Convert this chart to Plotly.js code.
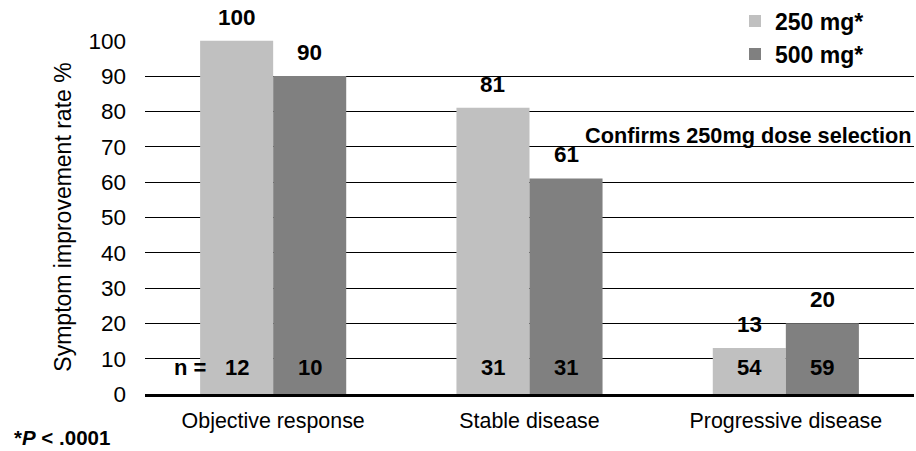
<!DOCTYPE html>
<html>
<head>
<meta charset="utf-8">
<script src="https://cdn.plot.ly/plotly-3.0.1.min.js"></script>
<style>
  html, body { margin: 0; padding: 0; background: #fff; }
  #chart { width: 916px; height: 451px; }
</style>
</head>
<body>
<div id="chart"></div>
<script>
// Symptom improvement by best response, two gefitinib doses
const categories = ['Objective response', 'Stable disease', 'Progressive disease'];
const rate250 = [100, 81, 13];
const rate500 = [90, 61, 20];
const n250 = [12, 31, 54];
const n500 = [10, 31, 59];
const seriesNames = ['250 mg*', '500 mg*'];
const yTicks = [0, 10, 20, 30, 40, 50, 60, 70, 80, 90, 100];

const FONT = 'Arial, "Liberation Sans", sans-serif';
const W = 916, H = 451;
const margin = { l: 145, r: 2, t: 40, b: 57, autoexpand: false };
const bargap = 0.43;
const plotW = W - margin.l - margin.r;
const barPx = plotW / categories.length * (1 - bargap) / 2;

const traces = [
  { type: 'bar', name: seriesNames[0], x: categories, y: rate250,
    marker: { color: '#c0c0c0' }, hoverinfo: 'skip', legendgroup: 'a' },
  { type: 'bar', name: seriesNames[1], x: categories, y: rate500,
    marker: { color: '#808080' }, hoverinfo: 'skip', legendgroup: 'b' }
];

const annotations = [];
const series = [[rate250, n250, -1], [rate500, n500, 1]];
series.forEach(([vals, ns, side]) => {
  categories.forEach((c, i) => {
    // value above each bar
    annotations.push({
      x: c, y: vals[i], xref: 'x', yref: 'y', xshift: side * barPx / 2,
      yanchor: 'bottom', yshift: 9, showarrow: false, text: '<b>' + vals[i] + '</b>',
      font: { family: FONT, size: 22.5, color: '#000' }
    });
    // patient count inside the bar foot
    annotations.push({
      x: c, y: 7.6, xref: 'x', yref: 'y', xshift: side * barPx / 2,
      yanchor: 'middle', showarrow: false, text: '<b>' + ns[i] + '</b>',
      font: { family: FONT, size: 22, color: '#000' }
    });
  });
});
annotations.push({
  x: (172 - margin.l) / plotW, y: 7.6, xref: 'paper', yref: 'y',
  showarrow: false, text: '<b>n =</b>', yanchor: 'middle',
  font: { family: FONT, size: 22, color: '#000' }
});
annotations.push({
  x: 1, y: 73.2, xref: 'paper', yref: 'y', xanchor: 'right', yanchor: 'middle',
  showarrow: false, text: '<b>Confirms 250mg dose selection</b>',
  font: { family: FONT, size: 21.7, color: '#000' }
});
annotations.push({
  x: (12 - margin.l) / plotW, y: -0.123, xref: 'paper', yref: 'paper',
  xanchor: 'left', yanchor: 'middle', showarrow: false,
  text: '<b>*<i>P</i> &lt; .0001</b>',
  font: { family: FONT, size: 20.5, color: '#000' }
});

const layout = {
  width: W, height: H, margin: margin,
  paper_bgcolor: '#fff', plot_bgcolor: '#fff',
  barmode: 'group', bargap: bargap, bargroupgap: 0,
  font: { family: FONT, size: 21, color: '#000' },
  showlegend: true,
  legend: {
    x: (735 - margin.l) / plotW, xanchor: 'left', y: 1.114, yanchor: 'top',
    bgcolor: 'rgba(0,0,0,0)', traceorder: 'grouped', tracegroupgap: 0,
    font: { family: FONT, size: 23, color: '#000', weight: 'bold' }
  },
  xaxis: {
    type: 'category', showgrid: false, zeroline: false,
    showline: true, linecolor: '#000', linewidth: 3,
    ticks: '', ticklabelstandoff: 5,
    tickfont: { family: FONT, size: 21.4, color: '#000' }
  },
  yaxis: {
    range: [0, 100.2], tickvals: yTicks, showgrid: true, gridcolor: '#000', gridwidth: 1,
    zeroline: false, showline: false, ticks: '', ticklabelstandoff: 18,
    tickfont: { family: FONT, size: 22.5, color: '#000' },
    title: { text: 'Symptom improvement rate %', font: { family: FONT, size: 23, color: '#000' }, standoff: 10 }
  },
  annotations: annotations
};

Plotly.newPlot('chart', traces, layout, { displayModeBar: false, staticPlot: true });
</script>
</body>
</html>
